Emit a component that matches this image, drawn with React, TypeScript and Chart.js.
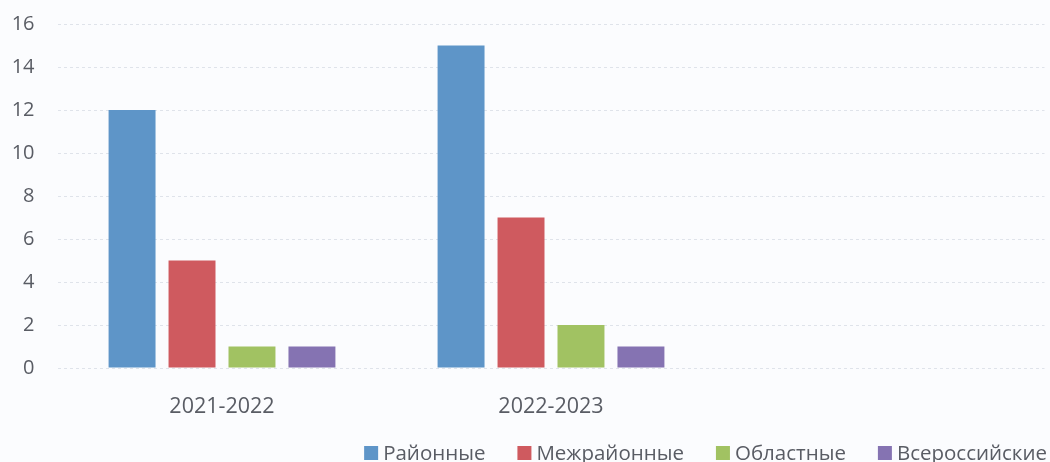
import React, { useEffect, useRef } from "react";
import { Chart, registerables } from "chart.js";

Chart.register(...registerables);

const categories = ["2021-2022", "2022-2023", ""];
const seriesNames = ["Районные", "Межрайонные", "Областные", "Всероссийские"];
const rayonnye = [12, 15, null];
const mezhrayonnye = [5, 7, null];
const oblastnye = [1, 2, null];
const vserossiyskie = [1, 1, null];
const yTicks = [0, 2, 4, 6, 8, 10, 12, 14, 16];

const colors = ["#5e95c8", "#cf5a5f", "#a1c262", "#8573b2"];
const textColor = "#595c64";
const fontFamily = "'Open Sans', 'Noto Sans', sans-serif";

const customLegend = {
  id: "customLegend",
  afterDraw(chart: any) {
    const ctx = chart.ctx;
    const items = chart.data.datasets.map((d: any) => ({ text: d.label, color: d.backgroundColor }));
    ctx.save();
    ctx.font = `20.5px ${fontFamily}`;
    const box = 14;
    const gapText = 5;
    const gapItem = 32;
    const widths = items.map((it: any) => box + gapText + ctx.measureText(it.text).width);
    const total = widths.reduce((a: number, b: number) => a + b, 0) + gapItem * (items.length - 1);
    let x = 1047 - total;
    const cy = 453;
    ctx.textBaseline = "middle";
    ctx.textAlign = "left";
    items.forEach((it: any, i: number) => {
      ctx.fillStyle = it.color;
      ctx.fillRect(x, cy - box / 2, box, box);
      ctx.fillStyle = textColor;
      ctx.fillText(it.text, x + box + gapText, cy + 1);
      x += widths[i] + gapItem;
    });
    ctx.restore();
  },
};

export default function App() {
  const ref = useRef<HTMLCanvasElement>(null);
  useEffect(() => {
    document.body.style.margin = "0";
    document.body.style.background = "#fbfcfe";
    const values = [rayonnye, mezhrayonnye, oblastnye, vserossiyskie];
    const chart = new Chart(ref.current as HTMLCanvasElement, {
      type: "bar",
      data: {
        labels: categories,
        datasets: seriesNames.map((name, i) => ({
          label: name,
          data: values[i],
          backgroundColor: colors[i],
          borderWidth: 0,
          categoryPercentage: 0.729,
          barPercentage: 0.783,
        })),
      },
      options: {
        animation: false,
        responsive: false,
        maintainAspectRatio: false,
        layout: { padding: { top: 24, right: 5.5, bottom: 40, left: 0 } },
        plugins: {
          legend: { display: false },
          tooltip: { enabled: false },
        },
        scales: {
          x: {
            grid: { display: false },
            border: { display: false },
            ticks: {
              color: textColor,
              font: { family: fontFamily, size: 21.5 },
              padding: 18,
              maxRotation: 0,
            },
            afterFit(scale: any) {
              scale.height = 54;
            },
          },
          y: {
            min: 0,
            max: 16,
            afterBuildTicks(scale: any) {
              scale.ticks = yTicks.map((v) => ({ value: v }));
            },
            grid: {
              color: "#dfe3ea",
              lineWidth: 1,
              drawTicks: false,
            },
            border: { display: false, dash: [3, 3] },
            ticks: {
              color: textColor,
              font: { family: fontFamily, size: 20 },
              padding: 23,
            },
            afterFit(scale: any) {
              scale.width = 57.5;
              scale.paddingTop = 12;
              scale.paddingBottom = 12;
            },
          },
        },
      },
      plugins: [customLegend],
    });
    return () => chart.destroy();
  }, []);
  return (
    <div style={{ width: 1050, height: 462, position: "relative", background: "#fbfcfe" }}>
      <canvas ref={ref} width={1050} height={462} style={{ display: "block" }} />
    </div>
  );
}
